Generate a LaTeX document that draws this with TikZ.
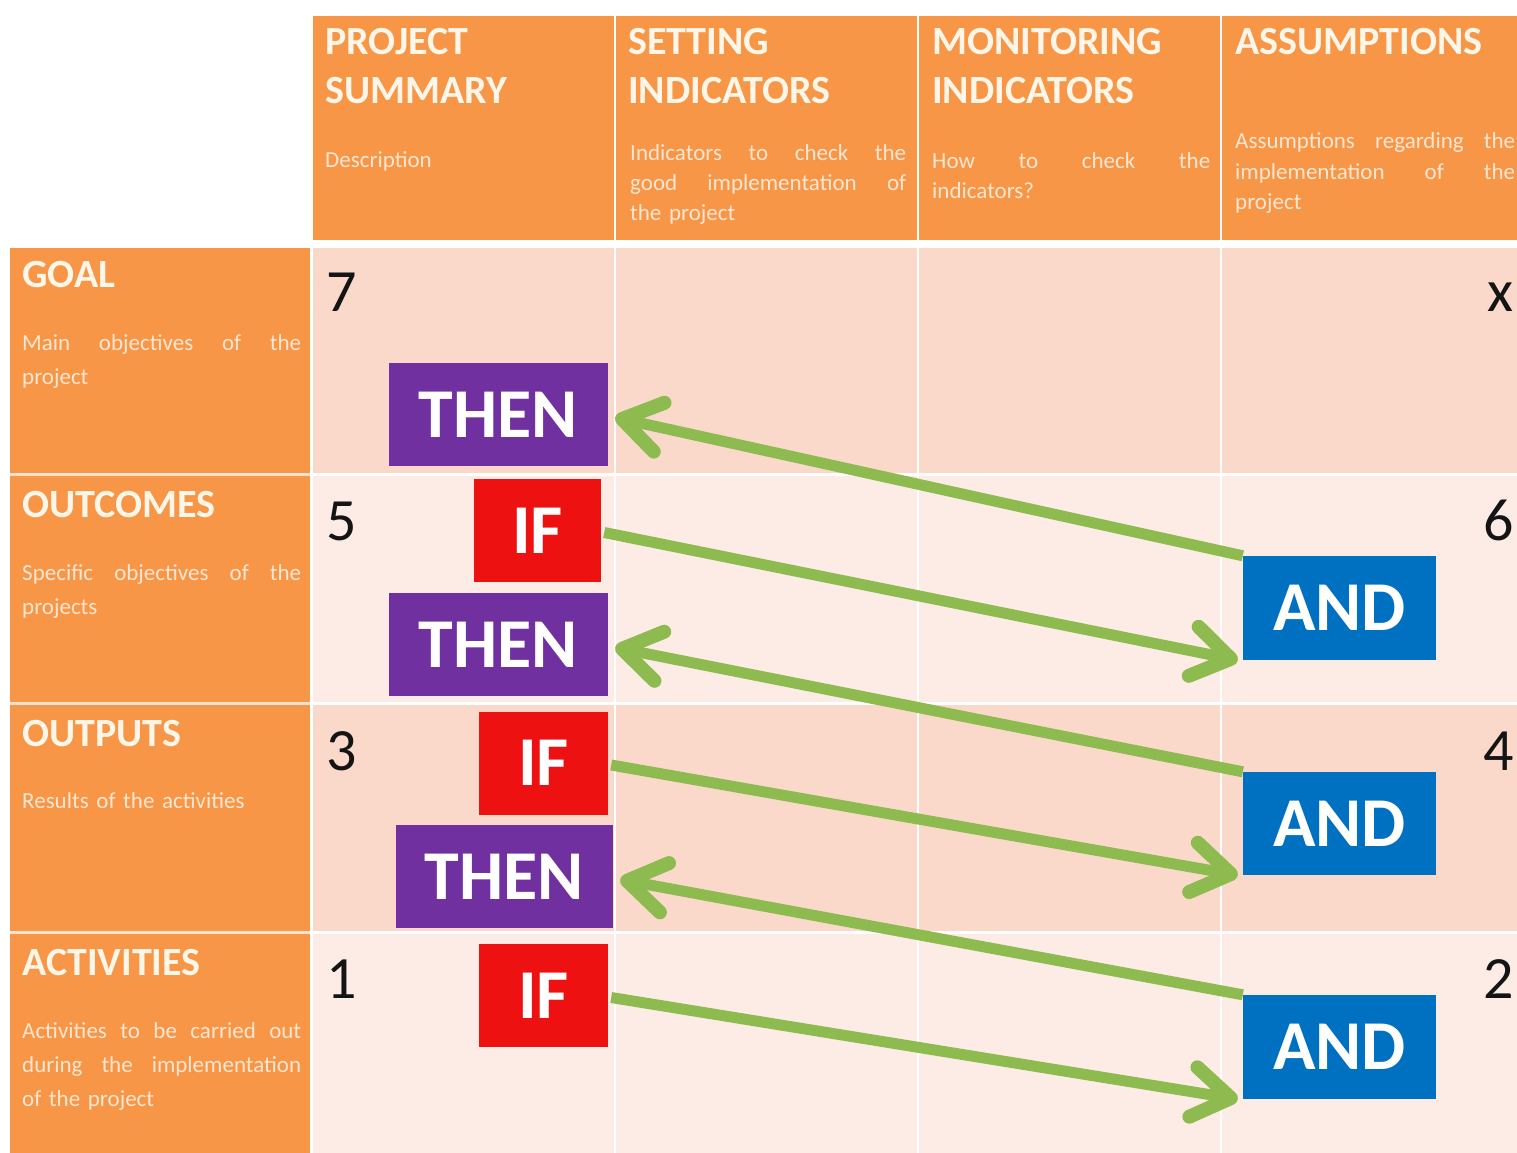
\documentclass[tikz,border=0pt]{standalone}
\usepackage{fontspec}
\setmainfont{Carlito}
\usetikzlibrary{arrows.meta}
\definecolor{hdr}{HTML}{F79646}
\definecolor{pinkA}{HTML}{FAD9CB}
\definecolor{pinkB}{HTML}{FDECE6}
\definecolor{thenc}{HTML}{7030A0}
\definecolor{ifc}{HTML}{EE1111}
\definecolor{andc}{HTML}{0070C0}
\definecolor{arrowc}{HTML}{8DBB4F}
\definecolor{txtlt}{HTML}{FFF6EA}
\definecolor{desc}{HTML}{FCE6D2}
\definecolor{sep}{HTML}{FBE3D2}
\begin{document}
\begin{tikzpicture}[x=1pt,y=-1pt,
  tag/.style={inner sep=0pt, text=white, font=\fontsize{70}{70}\selectfont\bfseries, minimum height=103pt},
  thenbox/.style={tag, fill=thenc, minimum width=219pt},
  ifbox/.style={tag, fill=ifc, minimum width=128pt},
  andbox/.style={tag, fill=andc, minimum width=193pt},
  link/.style={draw=arrowc, line width=11pt,
    -{Straight Barb[length=38pt,width=50pt,line width=14pt,round]}},
  htitle/.style={anchor=base west, inner sep=0pt, text width=290pt, align=left, text=txtlt, font=\fontsize{40}{49}\selectfont\bfseries},
  hdesc/.style={anchor=base west, inner sep=0pt, text width=#1, align=left, text=desc, font=\fontsize{23}{30}\selectfont},
  rtitle/.style={anchor=base west, inner sep=0pt, text=txtlt, font=\fontsize{40}{40}\selectfont\bfseries},
  rdesc/.style={anchor=base west, inner sep=0pt, text width=279pt, align=left, text=desc, font=\fontsize{23}{34}\selectfont},
  num/.style={inner sep=0pt, font=\fontsize{60}{60}\selectfont, text=black!92},
]
% page
\fill[white] (0,0) rectangle (1517,1153);
\useasboundingbox (0,0) rectangle (1517,1153);

% header row
\fill[hdr] (313,16) rectangle (614,240);
\fill[hdr] (616,16) rectangle (917,240);
\fill[hdr] (919,16) rectangle (1220,240);
\fill[hdr] (1222,16) rectangle (1517,240);

% row labels
\fill[hdr] (10,248) rectangle (310,473);
\fill[hdr] (10,476) rectangle (310,702);
\fill[hdr] (10,705) rectangle (310,931);
\fill[hdr] (10,934) rectangle (310,1153);
\fill[sep] (10,473) rectangle (310,476);
\fill[sep] (10,702) rectangle (310,705);
\fill[sep] (10,931) rectangle (310,934);

% body cells
\foreach \xa/\xb in {313/614,616/917,919/1220,1222/1517}{
  \fill[pinkA] (\xa,248) rectangle (\xb,473);
  \fill[pinkB] (\xa,476) rectangle (\xb,702);
  \fill[pinkA] (\xa,705) rectangle (\xb,931);
  \fill[pinkB] (\xa,934) rectangle (\xb,1153);
}

% header texts
\node[htitle] (t1) at (325,55) {PROJECT\\SUMMARY};
\node[hdesc=276pt] (d1) at (325,167) {Description};
\node[htitle] (t2) at (628,55) {SETTING\\INDICATORS};
\node[hdesc=276pt] (d2) at (630,160) {Indicators\hfill to\hfill check\hfill the\\good\hfill implementation\hfill of\\the project};
\node[htitle] (t3) at (932,55) {MONITORING\\INDICATORS};
\node[hdesc=278pt] (d3) at (932,168) {How\hfill to\hfill check\hfill the\\indicators?};
\node[htitle, text width=280pt] (t4) at (1235,55) {ASSUMPTIONS};
\node[hdesc=280pt] (d4) at (1235,149) {Assumptions\hfill regarding\hfill the\\implementation\hfill of\hfill the\\project};

% row label texts
\node[rtitle] (r1) at (22,287) {GOAL};
\node[rdesc] (rd1) at (22,350) {Main\hfill objectives\hfill of\hfill the\\project};
\node[rtitle] (r2) at (22,517) {OUTCOMES};
\node[rdesc] (rd2) at (22,580) {Specific\hfill objectives\hfill of\hfill the\\projects};
\node[rtitle] (r3) at (22,746) {OUTPUTS};
\node[rdesc] (rd3) at (22,808) {Results of the activities};
\node[rtitle] (r4) at (22,975) {ACTIVITIES};
\node[rdesc] (rd4) at (22,1038) {Activities\hfill to\hfill be\hfill carried\hfill out\\during\hfill the\hfill implementation\\of the project};

% level numbers
\node[num, anchor=base west] (n7) at (326,311) {7};
\node[num, anchor=base west] (n5) at (326,540) {5};
\node[num, anchor=base west] (n3) at (326,770) {3};
\node[num, anchor=base west] (n1) at (326,998) {1};
\node[num, anchor=base east] (nx) at (1514,311) {x};
\node[num, anchor=base east] (n6) at (1514,540) {6};
\node[num, anchor=base east] (n4) at (1514,770) {4};
\node[num, anchor=base east] (n2) at (1514,998) {2};

% logic boxes
\node[thenbox] (then1) at (498.5,414.5) {THEN};
\node[ifbox, minimum width=127pt] (if1) at (537.5,530.5) {IF};
\node[thenbox] (then2) at (498.5,644.5) {THEN};
\node[ifbox, minimum width=129pt] (if2) at (543.5,763) {IF};
\node[thenbox, minimum width=217pt] (then3) at (504.5,876.5) {THEN};
\node[ifbox, minimum width=129pt] (if3) at (543.5,995.5) {IF};
\node[andbox, minimum height=104pt] (and1) at (1339.5,608) {AND};
\node[andbox] (and2) at (1339.5,823.5) {AND};
\node[andbox, minimum height=104pt] (and3) at (1339.5,1047) {AND};

% connectors
\draw[link] (and1.north west) -- ([xshift=7pt,yshift=-3pt]then1.east);
\draw[link] ([xshift=3pt,yshift=-2pt]if1.east) -- ([xshift=-5pt]and1.south west);
\draw[link] (and2.north west) -- ([xshift=7pt,yshift=-3pt]then2.east);
\draw[link] ([xshift=3pt,yshift=-2pt]if2.east) -- ([xshift=-5pt]and2.south west);
\draw[link] (and3.north west) -- ([xshift=7pt,yshift=-3pt]then3.east);
\draw[link] ([xshift=3pt,yshift=-2pt]if3.east) -- ([xshift=-5pt]and3.south west);
\end{tikzpicture}
\end{document}
